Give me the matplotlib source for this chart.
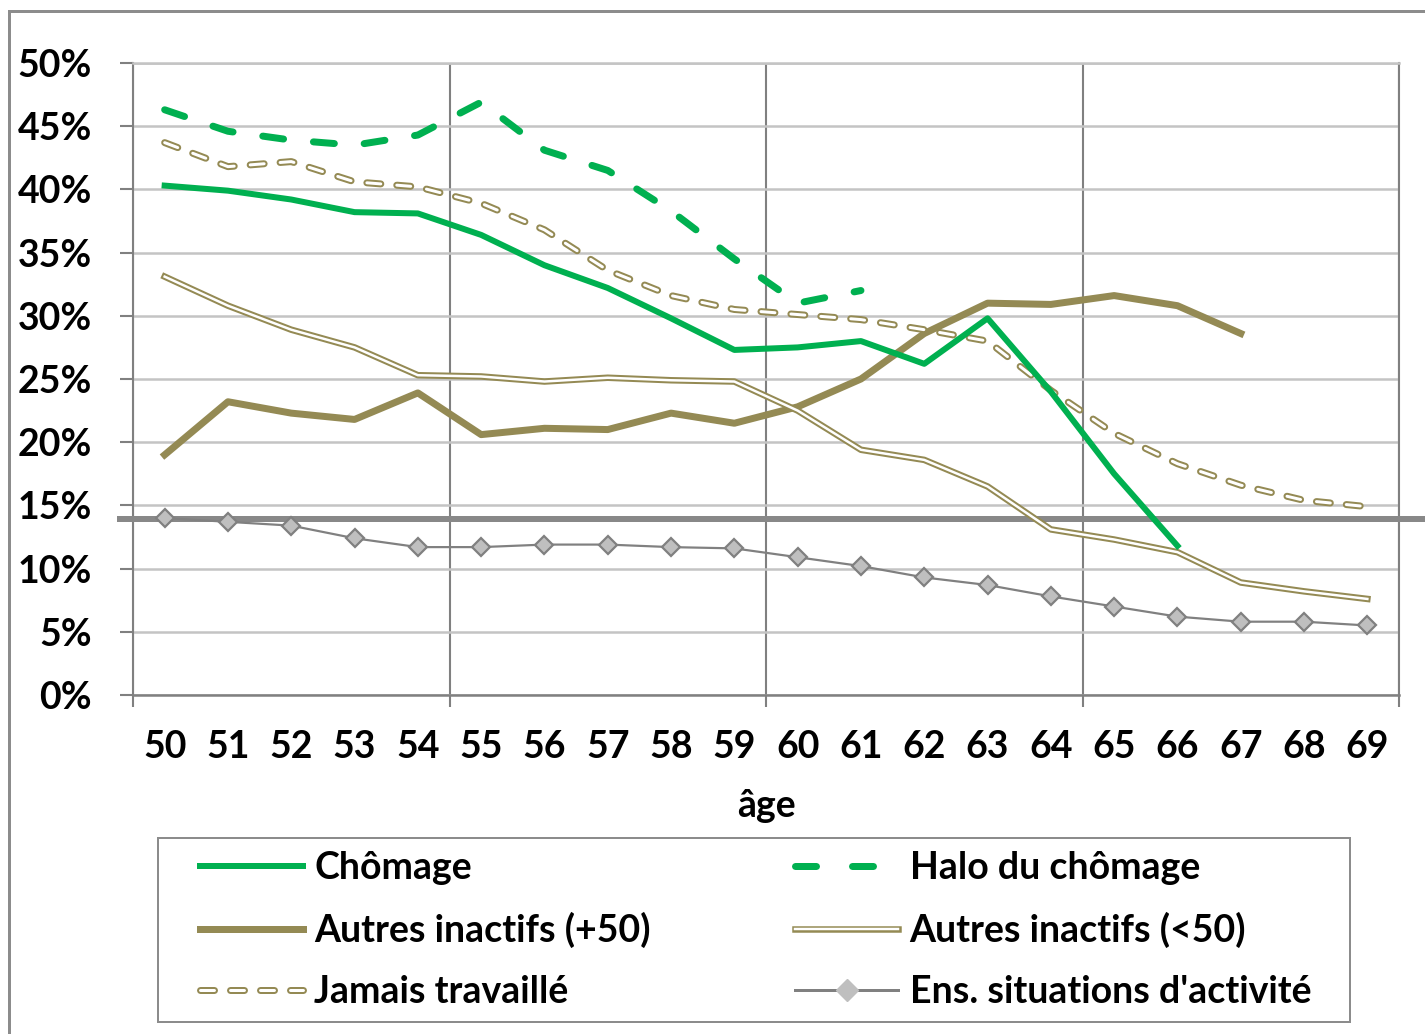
import matplotlib
matplotlib.use("Agg")
import matplotlib.pyplot as plt
import matplotlib.transforms as mtransforms
from matplotlib.lines import Line2D
from matplotlib.patches import Rectangle

plt.rcParams['font.family'] = ['Lato', 'DejaVu Sans']
plt.rcParams['font.weight'] = 'bold'
plt.rcParams['lines.scale_dashes'] = False

ages = list(range(50, 70))
age_labels = [str(a) for a in ages]

chomage = [40.3, 39.9, 39.2, 38.2, 38.1, 36.4, 34.0, 32.2, 29.8, 27.3,
           27.5, 28.0, 26.2, 29.8, 24.0, 17.5, 11.8]
halo = [46.3, 44.6, 43.9, 43.5, 44.3, 46.9, 43.1, 41.5, 38.3, 34.5, 31.0, 32.0]
inactifs_plus50 = [19.0, 23.2, 22.3, 21.8, 23.9, 20.6, 21.1, 21.0, 22.3, 21.5,
                   22.8, 25.0, 28.6, 31.0, 30.9, 31.6, 30.8, 28.6]
inactifs_moins50 = [33.1, 30.8, 28.9, 27.5, 25.3, 25.2, 24.8, 25.1, 24.9, 24.8,
                    22.5, 19.4, 18.6, 16.5, 13.1, 12.3, 11.3, 8.9, 8.2, 7.6]
jamais = [43.7, 41.8, 42.2, 40.6, 40.2, 38.9, 36.8, 33.6, 31.6, 30.5,
          30.1, 29.7, 28.9, 28.0, 24.1, 20.7, 18.3, 16.6, 15.4, 14.9]
ensemble = [14.0, 13.7, 13.4, 12.4, 11.7, 11.7, 11.9, 11.9, 11.7, 11.6,
            10.9, 10.2, 9.3, 8.7, 7.8, 7.0, 6.2, 5.8, 5.8, 5.5]
ref_line = 13.9

yticks = list(range(0, 51, 5))
ytick_labels = [str(v) + "%" for v in yticks]

green = "#00B050"
tan = "#948A54"
grey = "#808080"
light = "#C4C4C4"

fig = plt.figure(figsize=(14.25, 10.34), dpi=100)
ax = fig.add_axes([133 / 1425, 1 - 695 / 1034, 1266 / 1425, 632 / 1034])

px = 72 / 100  # points per pixel
jam_dash = (14 * px, 16 * px)
halo_dash = (21 * px, 30 * px)

ax.plot(ages[:len(chomage)], chomage, color=green, lw=6 * px, solid_joinstyle='round', zorder=5)
ax.plot(ages[:len(halo)], halo, color=green, lw=7 * px, dashes=halo_dash,
        dash_capstyle='round', zorder=5)
ax.plot(ages[:len(inactifs_plus50)], inactifs_plus50, color=tan, lw=7 * px,
        solid_joinstyle='round', zorder=4)
ax.plot(ages, inactifs_moins50, color=tan, lw=6.5 * px, solid_joinstyle='round', zorder=4)
ax.plot(ages, inactifs_moins50, color='white', lw=2.5 * px, solid_joinstyle='round', zorder=4)
ax.plot(ages, jamais, color=tan, lw=7 * px, dashes=jam_dash,
        dash_capstyle='round', zorder=4)
ax.plot(ages, jamais, color='white', lw=3 * px, dashes=jam_dash,
        dash_capstyle='round', zorder=4)
ax.plot(ages, ensemble, color=grey, lw=2.2 * px, marker='D', ms=9,
        mfc='#BFBFBF', mec=grey, mew=1.6, zorder=6)

# thick reference line across the whole chart
trans = mtransforms.blended_transform_factory(fig.transFigure, ax.transData)
ax.add_line(Line2D([120 / 1425, 1.0], [ref_line, ref_line], color='#888888',
                   lw=6 * px, transform=trans, clip_on=False, zorder=3))

ax.set_xlim(49.5, 69.5)
ax.set_ylim(0, 50)
ax.set_yticks(yticks)
ax.set_yticklabels(ytick_labels)
ax.set_xticks([49.5, 54.5, 59.5, 64.5, 69.5])
ax.set_xticklabels([])
ax.set_xticks(ages, minor=True)
ax.set_xticklabels(age_labels, minor=True)

ax.tick_params(axis='y', length=13 * px, width=1.5, color=grey, pad=20, labelsize=27)
ax.tick_params(axis='x', which='major', length=12 * px, width=1.5, color=grey)
ax.tick_params(axis='x', which='minor', length=0, pad=25, labelsize=27)
ax.grid(axis='y', color=light, lw=1.8)
ax.grid(axis='x', which='major', color=grey, lw=1.5)
ax.set_axisbelow(True)
for side in ['left', 'right']:
    ax.spines[side].set_color(grey)
    ax.spines[side].set_linewidth(1.5)
for side in ['top', 'bottom']:
    ax.spines[side].set_color(light)
    ax.spines[side].set_linewidth(1.8)
ax.spines['bottom'].set_color(grey)

ax.set_xlabel("âge", fontsize=27, fontweight='bold', labelpad=18)

# outer frame of the chart (cropped on the right and bottom)
fig.patches.append(Rectangle((9 / 1425, -0.1), 1.2, 1.1 - 11 / 1034, fill=False,
                             edgecolor='#8C8C8C', lw=3 * px, transform=fig.transFigure))
# legend frame
fig.patches.append(Rectangle((158 / 1425, 12 / 1034), 1192 / 1425, 184 / 1034, fill=False,
                             edgecolor='#8C8C8C', lw=2 * px, transform=fig.transFigure))

h_chom = Line2D([], [], color=green, lw=6 * px)
h_halo = Line2D([], [], color=green, lw=7 * px, dashes=(21 * px, 36 * px), dash_capstyle='round')
h_p50 = Line2D([], [], color=tan, lw=7 * px)
h_m50 = (Line2D([], [], color=tan, lw=6.5 * px), Line2D([], [], color='white', lw=2.5 * px))
h_jam = (Line2D([], [], color=tan, lw=7 * px, dashes=jam_dash, dash_capstyle='round'),
         Line2D([], [], color='white', lw=3 * px, dashes=jam_dash, dash_capstyle='round'))
h_ens = Line2D([], [], color=grey, lw=3 * px, marker='D', ms=11, mfc='#BFBFBF', mec='#BFBFBF')

handles = [h_chom, h_p50, h_jam, h_halo, h_m50, h_ens]
labels = ["Chômage", "Autres inactifs (+50)", "Jamais travaillé",
          "Halo du chômage", "Autres inactifs (<50)", "Ens. situations d'activité"]
fig.legend(handles, labels, ncol=2, mode='expand', loc='center',
           bbox_to_anchor=(200 / 1425, 1 - 930 / 1034, 1111 / 1425, 0),
           fontsize=27, frameon=False, handlelength=2.75, handletextpad=0.3,
           labelspacing=0.72, borderpad=0, numpoints=1, borderaxespad=0)

fig.savefig("out.png", dpi=100)
